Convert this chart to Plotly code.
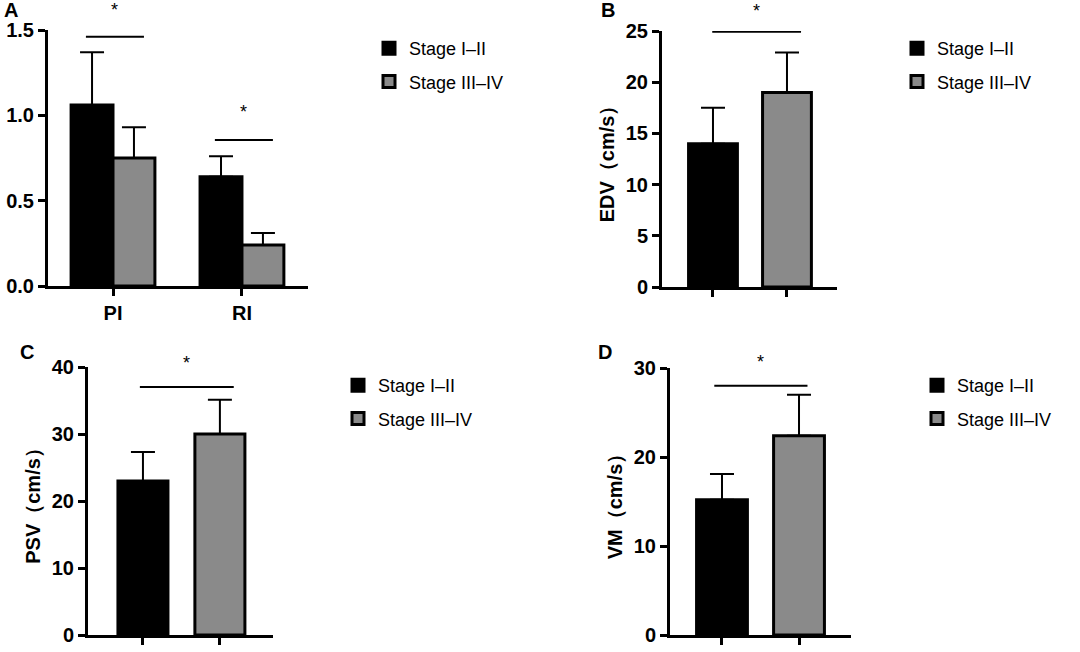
import plotly.graph_objects as go

W, H = 1080, 652

groups = ["Stage I–II", "Stage III–IV"]
colors = ["#000000", "#8a8a8a"]

# Panel A
a_cats = ["PI", "RI"]
a_mean_12 = [1.06, 0.64]
a_sd_12 = [0.31, 0.12]
a_mean_34 = [0.75, 0.24]
a_sd_34 = [0.18, 0.07]
a_sig_y = [1.46, 0.855]
a_star_y = [1.62, 1.02]
a_ymax = 1.5

# Panel B (EDV)
b_mean = [14.0, 19.0]
b_sd = [3.5, 3.9]
b_sig_y = 24.93
b_star_y = 27.0
b_ymax = 25

# Panel C (PSV)
c_mean = [23.0, 30.0]
c_sd = [4.3, 5.1]
c_sig_y = 37.0
c_star_y = 40.6
c_ymax = 40

# Panel D (VM)
d_mean = [15.2, 22.4]
d_sd = [2.9, 4.6]
d_sig_y = 28.0
d_star_y = 30.7
d_ymax = 30

def px_x(a, b):
    return [a / W, b / W]

def px_y(top, bottom):
    return [1 - bottom / H, 1 - top / H]

FONT = "Arial, Liberation Sans, sans-serif"

fig = go.Figure()

# ---------- Panel A ----------
for i, (means, sds) in enumerate([(a_mean_12, a_sd_12), (a_mean_34, a_sd_34)]):
    fig.add_trace(go.Bar(
        x=a_cats, y=means, name=groups[i],
        offset=-0.325 if i == 0 else 0.0, width=0.325,
        marker=dict(color=colors[i], line=dict(color="black", width=3)),
        error_y=dict(type="data", array=sds, arrayminus=[0] * len(sds), symmetric=False,
                     color="black", thickness=2, width=12),
        xaxis="x", yaxis="y", legend="legend", legendgroup="a%d" % i,
    ))

# ---------- Panels B, C, D ----------
panels = [
    ("x2", "y2", "legend2", b_mean, b_sd, 0.66),
    ("x3", "y3", "legend3", c_mean, c_sd, 0.65),
    ("x4", "y4", "legend4", d_mean, d_sd, 0.66),
]
for xa, ya, lg, means, sds, wd in panels:
    for i in range(2):
        fig.add_trace(go.Bar(
            x=[i], y=[means[i]], name=groups[i], width=wd,
            marker=dict(color=colors[i], line=dict(color="black", width=3)),
            error_y=dict(type="data", array=[sds[i]], arrayminus=[0], symmetric=False,
                         color="black", thickness=2, width=12),
            xaxis=xa, yaxis=ya, legend=lg, legendgroup=lg + str(i),
        ))

tickfont = dict(family=FONT, size=20, color="black", weight="bold")
common_axis = dict(showline=True, linecolor="black", linewidth=3, ticks="outside",
                   tickwidth=3, ticklen=7, tickcolor="black", showgrid=False,
                   zeroline=False, tickfont=tickfont, fixedrange=True, automargin=False)
title_font = dict(family=FONT, size=20, weight="bold", color="black")

fig.update_layout(
    width=W, height=H, margin=dict(l=0, r=0, t=0, b=0, autoexpand=False),
    paper_bgcolor="white", plot_bgcolor="white",
    barmode="overlay", showlegend=True,
    font=dict(family=FONT, color="black"),
    xaxis=dict(domain=px_x(48, 308), anchor="y", type="category",
               range=[-0.504, 1.512], **common_axis),
    yaxis=dict(domain=px_y(30, 286), anchor="x", range=[0, a_ymax],
               tickvals=[0, 0.5, 1.0, 1.5], ticktext=["0.0", "0.5", "1.0", "1.5"],
               **common_axis),
    xaxis2=dict(domain=px_x(662, 837), anchor="y2", range=[-0.689, 1.676],
                tickvals=[0, 1], ticktext=["", ""], **common_axis),
    yaxis2=dict(domain=px_y(31, 287), anchor="x2", range=[0, b_ymax], dtick=5,
                title=dict(text="EDV（cm/s）", font=title_font, standoff=6),
                **common_axis),
    xaxis3=dict(domain=px_x(88, 273), anchor="y3", range=[-0.714, 1.69],
                tickvals=[0, 1], ticktext=["", ""], **common_axis),
    yaxis3=dict(domain=px_y(367, 635), anchor="x3", range=[0, c_ymax], dtick=10,
                title=dict(text="PSV（cm/s）", font=title_font, standoff=6),
                **common_axis),
    xaxis4=dict(domain=px_x(670, 851), anchor="y4", range=[-0.675, 1.675],
                tickvals=[0, 1], ticktext=["", ""], **common_axis),
    yaxis4=dict(domain=px_y(368, 635), anchor="x4", range=[0, d_ymax], dtick=10,
                title=dict(text="VM（cm/s）", font=title_font, standoff=6),
                **common_axis),
)

legend_font = dict(family=FONT, size=18, color="black")
def leg(xpx, ypx):
    return dict(x=xpx / W, y=1 - ypx / H, xanchor="left", yanchor="top",
                font=legend_font, bgcolor="rgba(0,0,0,0)", tracegroupgap=7,
                traceorder="grouped", itemclick=False, itemdoubleclick=False)

fig.update_layout(
    legend=leg(369, 30),
    legend2=leg(897, 30),
    legend3=leg(338, 367),
    legend4=leg(917, 367),
)

# significance lines and stars
shapes = []
annotations = []
def sig(xref, yref, x0, x1, y, star_y, ymax):
    shapes.append(dict(type="line", xref=xref, yref=yref, x0=x0, x1=x1, y0=y, y1=y,
                       line=dict(color="black", width=2)))
    annotations.append(dict(xref=xref, yref=yref + " domain", x=(x0 + x1) / 2, y=star_y / ymax,
                            text="*", showarrow=False, yanchor="middle",
                            font=dict(family=FONT, size=18, color="black")))

sig("x", "y", -0.21, 0.24, a_sig_y[0], a_star_y[0], a_ymax)
sig("x", "y", 0.79, 1.24, a_sig_y[1], a_star_y[1], a_ymax)
sig("x2", "y2", -0.01, 1.19, b_sig_y, b_star_y, b_ymax)
sig("x3", "y3", -0.04, 1.18, c_sig_y, c_star_y, c_ymax)
sig("x4", "y4", -0.1, 1.11, d_sig_y, d_star_y, d_ymax)

for letter, xp, yp in [("A", 11, 10), ("B", 608, 10), ("C", 27, 352), ("D", 605, 352)]:
    annotations.append(dict(xref="paper", yref="paper", x=xp / W, y=1 - yp / H, text=letter,
                            showarrow=False, xanchor="center", yanchor="middle",
                            font=dict(family=FONT, size=20, color="black", weight="bold")))

fig.update_layout(shapes=shapes, annotations=annotations)

fig.write_html("out.html", config={"displayModeBar": False},
               post_script="document.body.style.margin='0';document.body.style.overflow='hidden';")
